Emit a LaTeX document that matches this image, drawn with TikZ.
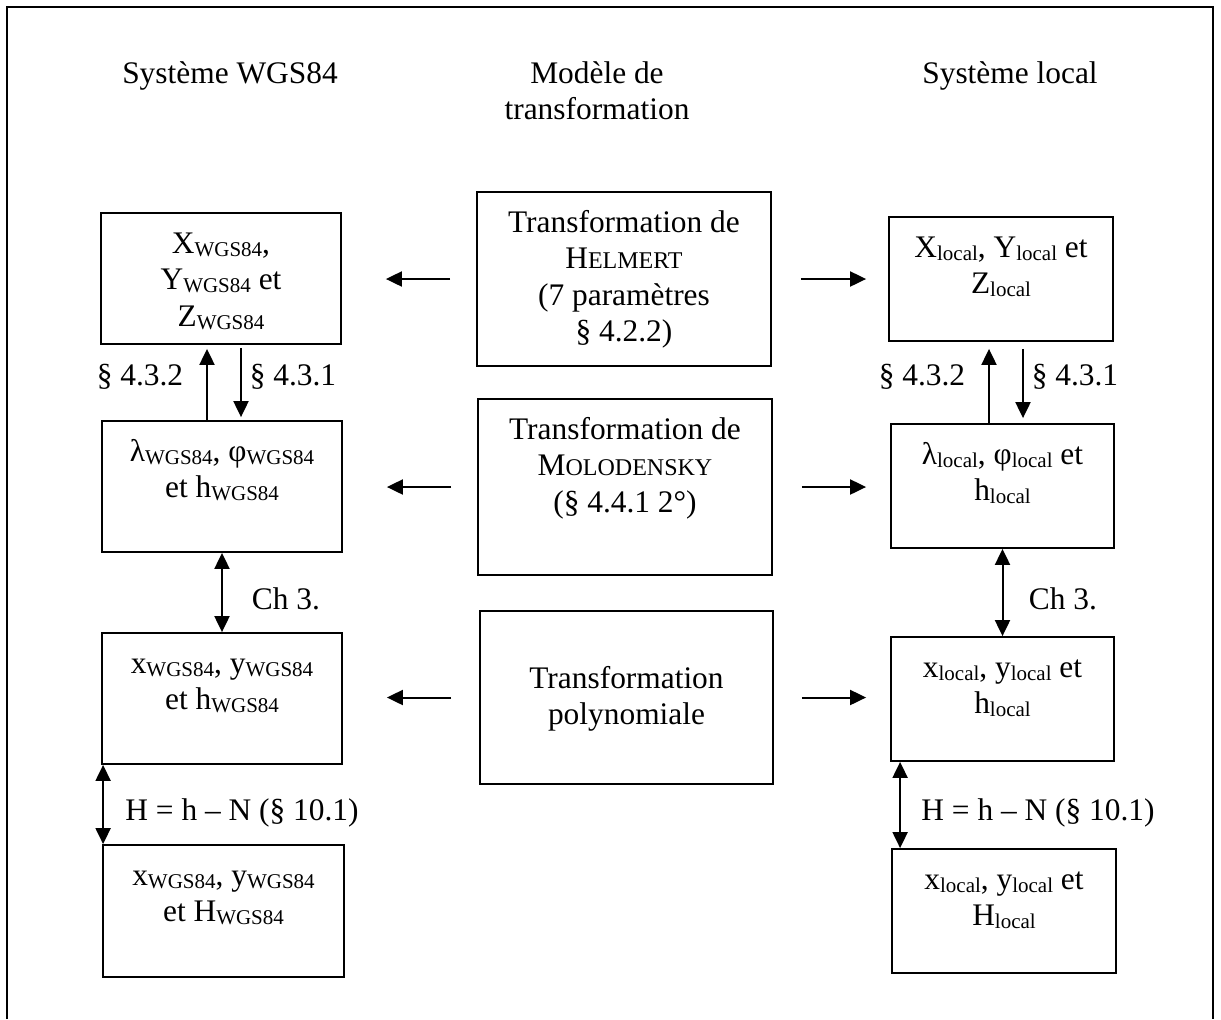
\documentclass[tikz,border=0pt]{standalone}
\usepackage{fontspec}
\setmainfont{Liberation Serif}
\usetikzlibrary{arrows.meta,calc}
\newcommand\sbs[1]{\raisebox{-1.5pt}{\fontsize{10.5pt}{12pt}\selectfont #1}}
\newcommand\smc[2]{#1{\fontsize{12pt}{12pt}\selectfont #2}}
\newcommand\fst{\rule{0pt}{13pt}}
\begin{document}
\begin{tikzpicture}[x=0.5pt,y=-0.5pt,
  box/.style={draw, line width=0.9pt, inner sep=0pt},
  txt/.style={anchor=north, align=center, inner sep=0pt, font=\fontsize{15.7pt}{18.2pt}\selectfont},
  lbl/.style={anchor=base, inner sep=0pt, font=\fontsize{15.7pt}{18.2pt}\selectfont},
  arr/.style={-{Triangle[length=8pt,width=7.5pt]}, line width=1pt},
  darr/.style={{Triangle[length=8pt,width=7.5pt]}-{Triangle[length=8pt,width=7.5pt]}, line width=1pt}]
\useasboundingbox (0,0) rectangle (1221,1019);
% frame
\draw[line width=1pt] (7,1019) -- (7,7) -- (1213,7) -- (1213,1019);
% titles
\node[lbl] (tW) at (230,83) {Système WGS84};
\node[txt] (tM) at (597,57) {\fst Modèle de\\transformation};
\node[lbl] (tL) at (1010,83) {Système local};
% boxes
\node[box, minimum width=120pt, minimum height=65.5pt] (L1) at (221,278.5) {};
\node[box, minimum width=120pt, minimum height=65.5pt] (L2) at (222,486.5) {};
\node[box, minimum width=120pt, minimum height=65.5pt] (L3) at (222,698.5) {};
\node[box, minimum width=120.5pt, minimum height=66pt] (L4) at (223.5,911) {};
\node[box, minimum width=147pt, minimum height=87pt] (M1) at (624,279) {};
\node[box, minimum width=147pt, minimum height=88pt] (M2) at (625,487) {};
\node[box, minimum width=146.5pt, minimum height=86.5pt] (M3) at (626.5,697.5) {};
\node[box, minimum width=112pt, minimum height=62pt] (R1) at (1001,279) {};
\node[box, minimum width=111.5pt, minimum height=62pt] (R2) at (1002.5,486) {};
\node[box, minimum width=111.5pt, minimum height=62pt] (R3) at (1002.5,699) {};
\node[box, minimum width=112pt, minimum height=62pt] (R4) at (1004,911) {};
% box texts
\node[txt] (tL1) at ($(L1.north)+(0,-7.5pt)$) {\fst X\sbs{WGS84},\\Y\sbs{WGS84} et\\Z\sbs{WGS84}};
\node[txt] (tL2) at ($(L2.north)+(0,-7.5pt)$) {\fst λ\sbs{WGS84}, φ\sbs{WGS84}\\et h\sbs{WGS84}};
\node[txt] (tL3) at ($(L3.north)+(0,-7.5pt)$) {\fst x\sbs{WGS84}, y\sbs{WGS84}\\et h\sbs{WGS84}};
\node[txt] (tL4) at ($(L4.north)+(0,-7.5pt)$) {\fst x\sbs{WGS84}, y\sbs{WGS84}\\et H\sbs{WGS84}};
\node[txt] (tM1) at ($(M1.north)+(0,-7.5pt)$) {\fst Transformation de\\\smc{H}{ELMERT}\\(7 paramètres\\§ 4.2.2)};
\node[txt] (tM2) at ($(M2.north)+(0,-7.5pt)$) {\fst Transformation de\\\smc{M}{OLODENSKY}\\(§ 4.4.1 2°)};
\node[txt] (tM3) at ($(M3.north)+(0,-26pt)$) {\fst Transformation\\polynomiale};
\node[txt] (tR1) at ($(R1.north)+(0,-7.5pt)$) {\fst X\sbs{local}, Y\sbs{local} et\\Z\sbs{local}};
\node[txt] (tR2) at ($(R2.north)+(0,-7.5pt)$) {\fst λ\sbs{local}, φ\sbs{local} et\\h\sbs{local}};
\node[txt] (tR3) at ($(R3.north)+(0,-7.5pt)$) {\fst x\sbs{local}, y\sbs{local} et\\h\sbs{local}};
\node[txt] (tR4) at ($(R4.north)+(0,-7.5pt)$) {\fst x\sbs{local}, y\sbs{local} et\\H\sbs{local}};
% left column connectors
\draw[arr] ($(L1.south |- L2.north)+(-7pt,0)$) -- ($(L1.south)+(-7pt,-2pt)$);
\draw[arr] ($(L1.south)+(10pt,-1.5pt)$) -- ($(L1.south |- L2.north)+(10pt,1.5pt)$);
\draw[darr] (L2.south) -- (L3.north);
\draw[darr] ($(L3.south west)+(1pt,0)$) -- ($(L3.south west |- L4.north)+(1pt,0)$);
% right column connectors
\draw[arr] ($(R1.south |- R2.north)+(-6pt,0)$) -- ($(R1.south)+(-6pt,-3.5pt)$);
\draw[arr] ($(R1.south)+(11pt,-3.5pt)$) -- ($(R1.south |- R2.north)+(11pt,2.5pt)$);
\draw[darr] (R2.south) -- (R3.north);
\draw[darr] ($(R3.south west)+(5pt,0)$) -- ($(R3.south west |- R4.north)+(5pt,0)$);
% horizontal connectors
\draw[arr] ($(M1.west)+(-13pt,0)$) -- ($(L1.east |- M1.west)+(22pt,0)$);
\draw[arr] ($(M2.west)+(-13pt,0)$) -- ($(L2.east |- M2.west)+(22pt,0)$);
\draw[arr] ($(M3.west)+(-14pt,0)$) -- ($(L3.east |- M3.west)+(22pt,0)$);
\draw[arr] ($(M1.east)+(14.5pt,0)$) -- ($(R1.west |- M1.east)+(-11pt,0)$);
\draw[arr] ($(M2.east)+(14.5pt,0)$) -- ($(R2.west |- M2.east)+(-12pt,0)$);
\draw[arr] ($(M3.east)+(14pt,0)$) -- ($(R3.west |- M3.east)+(-12pt,0)$);
% labels
\node[lbl] (a1) at (140,385) {§ 4.3.2};
\node[lbl] (a2) at (293,385) {§ 4.3.1};
\node[lbl] (a3) at (922,385) {§ 4.3.2};
\node[lbl] (a4) at (1075,385) {§ 4.3.1};
\node[lbl] (c1) at (286,609) {Ch 3.};
\node[lbl] (c2) at (1063,609) {Ch 3.};
\node[lbl] (h1) at (242,820) {H = h – N (§ 10.1)};
\node[lbl] (h2) at (1038,820) {H = h – N (§ 10.1)};
\end{tikzpicture}
\end{document}
